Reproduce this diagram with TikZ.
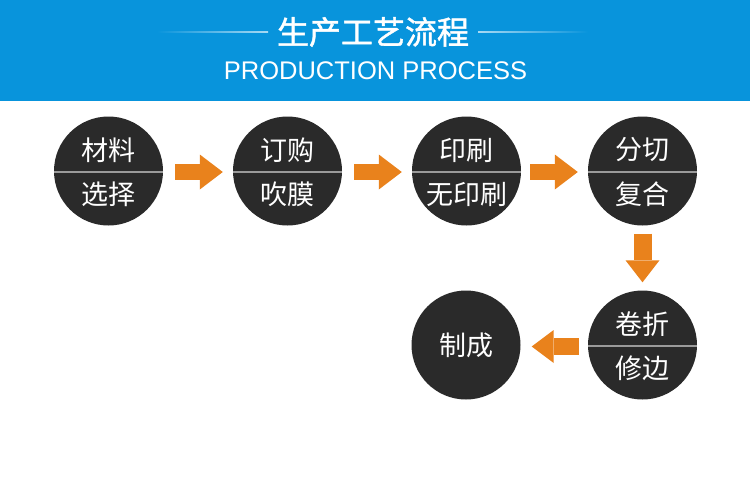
\documentclass[tikz,border=0pt]{standalone}
\usepackage{fontspec}
\setmainfont{Liberation Sans}
\newfontfamily\cjk{Noto Sans CJK SC}
\newfontfamily\cjkmed[FakeBold=1.4]{Noto Sans CJK SC}
\usetikzlibrary{arrows.meta}
\definecolor{hdr}{HTML}{0894DC}
\definecolor{disc}{HTML}{2A2A2A}
\definecolor{flowc}{HTML}{E9821C}
\definecolor{divc}{HTML}{9A9A9A}
\tikzset{
  stepdisc/.style={circle, fill=disc, minimum size=109pt, inner sep=0pt},
  steptxt/.style={text=white, font=\cjk\fontsize{27}{30}\selectfont, inner sep=0pt},
  divline/.style={draw=divc, line width=1.6pt},
  flow/.style={draw=flowc, line width=#1, -{Triangle[width=35pt,length=23pt,line width=0pt]}},
  flow/.default=16pt
}
\begin{document}
\begin{tikzpicture}[x=1pt,y=-1pt]
\useasboundingbox (0,0) rectangle (750,488);
\fill[white] (0,0) rectangle (750,488);
\fill[hdr] (0,0) rectangle (750,101);
% title decoration lines
\shade[left color=hdr, right color=white!65!hdr] (157,31.5) rectangle (268,32.6);
\shade[left color=white!65!hdr, right color=hdr] (478,31.5) rectangle (588,32.6);
\node[text=white, font=\cjkmed\fontsize{32}{36}\selectfont, inner sep=0pt] (title) at (373,32) {生产工艺流程};
\node[text=white, font=\fontsize{25.5}{28}\selectfont, inner sep=0pt] (subtitle) at (375.5,71) {PRODUCTION PROCESS};

% discs
\node[stepdisc] (c1) at (108.5,171) {};
\node[stepdisc] (c2) at (287.5,171) {};
\node[stepdisc] (c3) at (466.5,171) {};
\node[stepdisc] (c4) at (642.5,171) {};
\node[stepdisc] (c5) at (642.5,345) {};
\node[stepdisc] (c6) at (466,345) {};

\foreach \c in {c1,c2,c3,c4,c5}{
  \draw[divline] ([yshift=-1pt]\c.west) -- ([yshift=-1pt]\c.east);
}

\node[steptxt] (t1a) at ([yshift=21pt]c1.center) {材料};
\node[steptxt] (t1b) at ([yshift=-23pt]c1.center) {选择};
\node[steptxt] (t2a) at ([yshift=21pt]c2.center) {订购};
\node[steptxt] (t2b) at ([yshift=-23pt]c2.center) {吹膜};
\node[steptxt] (t3a) at ([yshift=21pt]c3.center) {印刷};
\node[steptxt] (t3b) at ([yshift=-23pt]c3.center) {无印刷};
\node[steptxt] (t4a) at ([yshift=21pt]c4.center) {分切};
\node[steptxt] (t4b) at ([yshift=-23pt]c4.center) {复合};
\node[steptxt] (t5a) at ([yshift=21pt]c5.center) {卷折};
\node[steptxt] (t5b) at ([yshift=-23pt]c5.center) {修边};
\node[steptxt] (t6) at (c6.center) {制成};

% flow arrows
\draw[flow, shorten <=12pt, shorten >=10pt] ([yshift=-1pt]c1.east) -- ([yshift=-1pt]c2.west);
\draw[flow, shorten <=12pt, shorten >=10pt] ([yshift=-1pt]c2.east) -- ([yshift=-1pt]c3.west);
\draw[flow, shorten <=9pt, shorten >=10pt] ([yshift=-1pt]c3.east) -- ([yshift=-1pt]c4.west);
\draw[draw=flowc, line width=18pt, -{Triangle[width=34pt,length=22pt,line width=0pt]}, shorten <=8pt, shorten >=8pt] (c4.south) -- (c5.north);
\draw[draw=flowc, line width=17pt, -{Triangle[width=33pt,length=22pt,line width=0pt]}, shorten <=9pt, shorten >=11pt] ([yshift=-1.5pt]c5.west) -- ([yshift=-1.5pt]c6.east);
\end{tikzpicture}
\end{document}
